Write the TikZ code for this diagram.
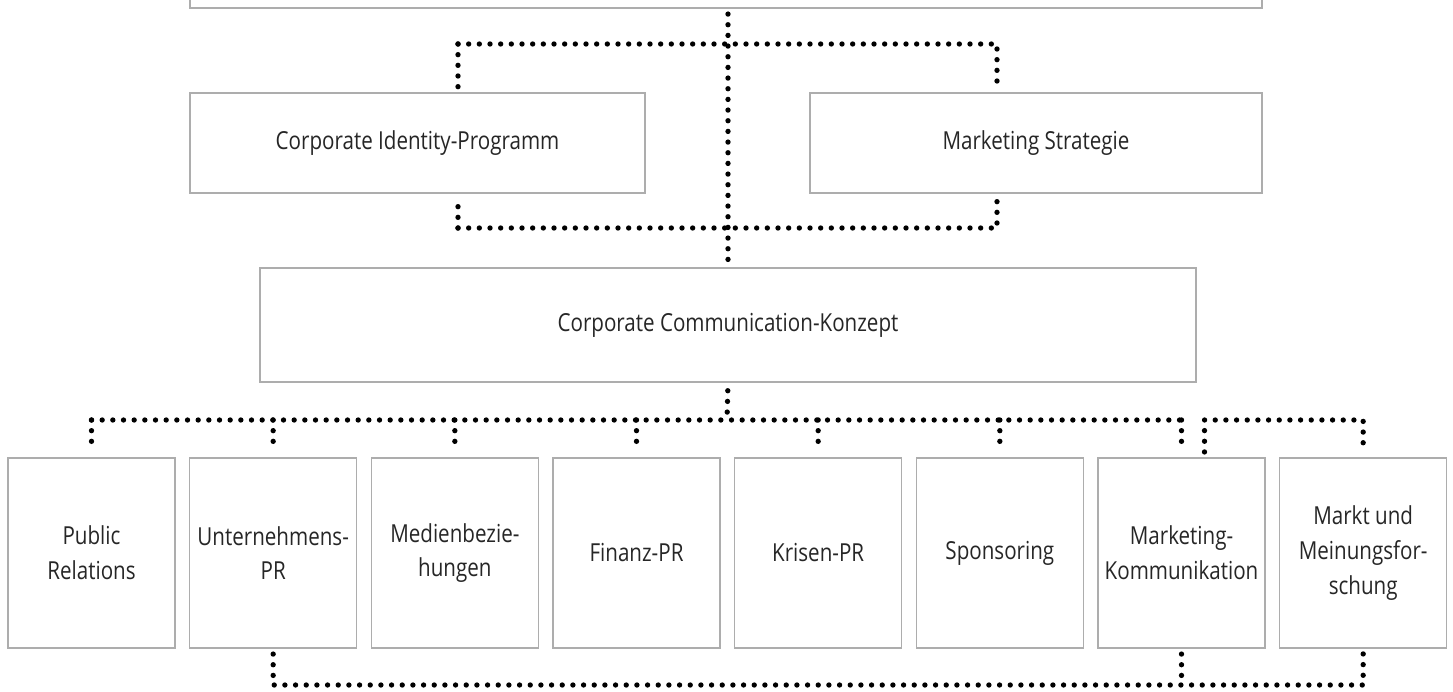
\documentclass[tikz,border=0pt]{standalone}
\usepackage{fontspec}
\setmainfont{Open Sans}[FakeStretch=0.83]
\usetikzlibrary{calc}
\usetikzlibrary{positioning}

\begin{document}
\begin{tikzpicture}[x=0.75pt,y=-0.75pt,node distance=9.9pt,semithick]
	\tikzstyle{box}=[draw=black!32, line width=1.1pt, rectangle, align=center, text=black!85, inner sep=2pt, font=\fontsize{18.6}{26}\selectfont]
	\tikzstyle{small}=[box, minimum width=125.25pt, minimum height=142.5pt]
	\tikzstyle{dotline}=[line width=4pt, line cap=round, dash pattern=on 0pt off 8pt]
	\useasboundingbox (0,0) rectangle (1453,692);
	\node[box, minimum width=804pt, minimum height=45pt] 	(leit) at (726,-22) {};
	\node[box, minimum width=341.25pt, minimum height=75pt] (cip) at (417.5,143) {Corporate Identity-Programm};
	\node[box, minimum width=339pt, minimum height=75pt] 	(ms) at (1036,143) {Marketing Strategie};
	\node[box, minimum width=702pt, minimum height=85.5pt] 	(cc) at (728,325) {Corporate Communication-Konzept};
	\node[small] 	(pr) at (91.5,553) 	{Public\\Relations};
	\node[small] 	(up) [right=of pr] 	{Unternehmens-\\PR};
	\node[small] 	(med) [right=of up] 	{Medienbezie-\\hungen};
	\node[small] 	(fin) [right=of med] 	{Finanz-PR};
	\node[small] 	(kri) [right=of fin] 	{Krisen-PR};
	\node[small] 	(spo) [right=of kri] 	{Sponsoring};
	\node[small] 	(mk) [right=of spo] 	{Marketing-\\Kommunikation};
	\node[small] 	(markt) [right=of mk] 	{Markt und\\Meinungsfor-\\schung};
	\coordinate (tl) at (458,44);
	\coordinate (tr) at (997,44);
	\coordinate (bl) at (458,228);
	\coordinate (br) at (997,228);
	\coordinate (hub) at (727,420);
	\coordinate (low) at (727,685);
	\coordinate (mkr) at ($(mk.north)+(23,0)$);
	% upper part
	\draw[dotline, shorten <=4pt, shorten >=4pt] (cc.north |- leit.south) -- (cc.north);
	\draw[dotline, shorten >=4pt] (tl) -- (tr) -- (ms.north -| tr);
	\draw[dotline, shorten >=4pt] (tl) -- (cip.north -| tl);
	\draw[dotline, shorten >=4pt] (bl) -- (br) -- (ms.south -| br);
	\draw[dotline, shorten >=4pt] (bl) -- (cip.south -| bl);
	% lower part
	\draw[dotline, shorten <=6pt] (cc.south) -- (hub);
	\draw[dotline] (pr.north |- hub) -- (mk.north |- hub);
	\foreach \n in {pr,up,med,fin,kri,spo,mk}
		\draw[dotline, shorten >=4pt] (\n.north |- hub) -- (\n.north);
	\draw[dotline, shorten <=4pt, shorten >=4pt] (mkr) -- (mkr |- hub) -- (markt.north |- hub) -- (markt.north);
	\draw[dotline, shorten <=4pt] (up.south) -- (up.south |- low) -- (markt.south |- low) -- (markt.south);
	\draw[dotline, shorten <=4pt] (mk.south) -- (mk.south |- low);
\end{tikzpicture}
\end{document}
